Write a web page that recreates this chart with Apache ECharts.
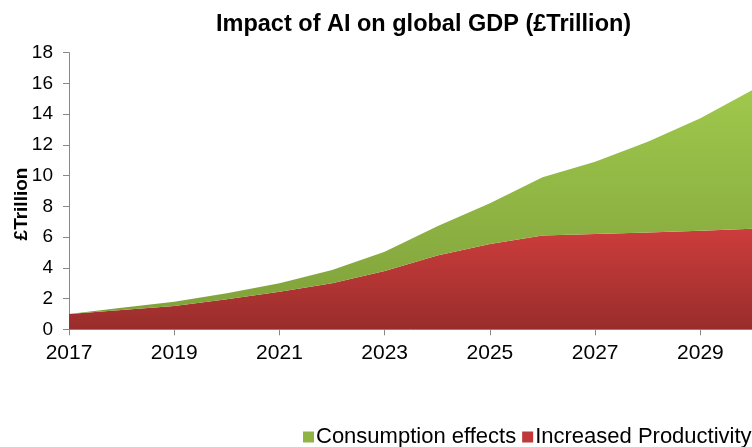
<!DOCTYPE html>
<html>
<head>
<meta charset="utf-8">
<script src="https://cdn.jsdelivr.net/npm/echarts@6/dist/echarts.min.js"></script>
<style>
  html, body { margin: 0; padding: 0; background: #fff; }
  #chart { width: 752px; height: 447px; }
</style>
</head>
<body>
<div id="chart"></div>
<script>
// Years on the horizontal axis
const years = ['2017','2018','2019','2020','2021','2022','2023','2024','2025','2026','2027','2028','2029','2030'];
// GDP gain from increased productivity (£ trillion)
const productivity = [1.0, 1.25, 1.52, 1.95, 2.45, 3.0, 3.8, 4.8, 5.55, 6.1, 6.2, 6.3, 6.42, 6.55];
// GDP gain from consumption effects, stacked on top (£ trillion)
const consumption = [0.0, 0.15, 0.28, 0.4, 0.55, 0.86, 1.25, 1.9, 2.65, 3.8, 4.7, 5.9, 7.31, 9.05];

const FONT = '"Liberation Sans", Arial, sans-serif';
const chart = echarts.init(document.getElementById('chart'), null, { renderer: 'canvas' });

chart.setOption({
  animation: false,
  backgroundColor: '#ffffff',
  title: {
    text: 'Impact of AI on global GDP (£Trillion)',
    left: 211,
    top: 8,
    textStyle: { fontFamily: FONT, fontSize: 23.5, fontWeight: 'bold', color: '#000' }
  },
  legend: {
    data: ['Consumption effects', 'Increased Productivity'],
    left: 298,
    top: 421,
    width: 520,
    orient: 'horizontal',
    icon: 'rect',
    itemWidth: 11,
    itemHeight: 11,
    itemGap: 6,
    textStyle: { fontFamily: FONT, fontSize: 22, color: '#000', padding: [0, 0, 0, -3] }
  },
  grid: { left: 69, right: -1, top: 52.7, bottom: 117.7, containLabel: false, outerBoundsMode: 'none' },
  xAxis: {
    type: 'category',
    data: years,
    boundaryGap: false,
    axisLine: { lineStyle: { color: '#888888', width: 1 } },
    axisTick: { interval: 1, length: 6, lineStyle: { color: '#888888' } },
    axisLabel: { interval: 1, margin: 13, fontFamily: FONT, fontSize: 21, color: '#000' },
    splitLine: { show: false }
  },
  yAxis: {
    type: 'value',
    min: 0,
    max: 18,
    interval: 2,
    name: '£Trillion',
    nameLocation: 'middle',
    nameGap: 38,
    nameRotate: 90,
    nameMoveOverlap: false,
    nameTextStyle: { fontFamily: FONT, fontSize: 19, fontWeight: 'bold', color: '#000', padding: [0, 0, 0, -26] },
    axisLine: { show: true, lineStyle: { color: '#888888', width: 1 } },
    axisTick: { show: true, length: 6, lineStyle: { color: '#888888' } },
    axisLabel: { margin: 16, fontFamily: FONT, fontSize: 19, color: '#000' },
    splitLine: { show: false }
  },
  series: [
    {
      name: 'Increased Productivity',
      type: 'line',
      stack: 'gdp',
      data: productivity,
      showSymbol: false,
      symbol: 'none',
      lineStyle: { width: 0 },
      itemStyle: { color: '#c0393a' },
      areaStyle: {
        opacity: 1,
        color: new echarts.graphic.LinearGradient(0, 0, 0, 1, [
          { offset: 0, color: '#cc3d3c' },
          { offset: 1, color: '#992d2b' }
        ])
      }
    },
    {
      name: 'Consumption effects',
      type: 'line',
      stack: 'gdp',
      data: consumption,
      showSymbol: false,
      symbol: 'none',
      lineStyle: { width: 0 },
      itemStyle: { color: '#8fb444' },
      areaStyle: {
        opacity: 1,
        color: new echarts.graphic.LinearGradient(0, 0, 0, 1, [
          { offset: 0, color: '#9fc84c' },
          { offset: 1, color: '#80a23b' }
        ])
      }
    }
  ]
});
</script>
</body>
</html>
